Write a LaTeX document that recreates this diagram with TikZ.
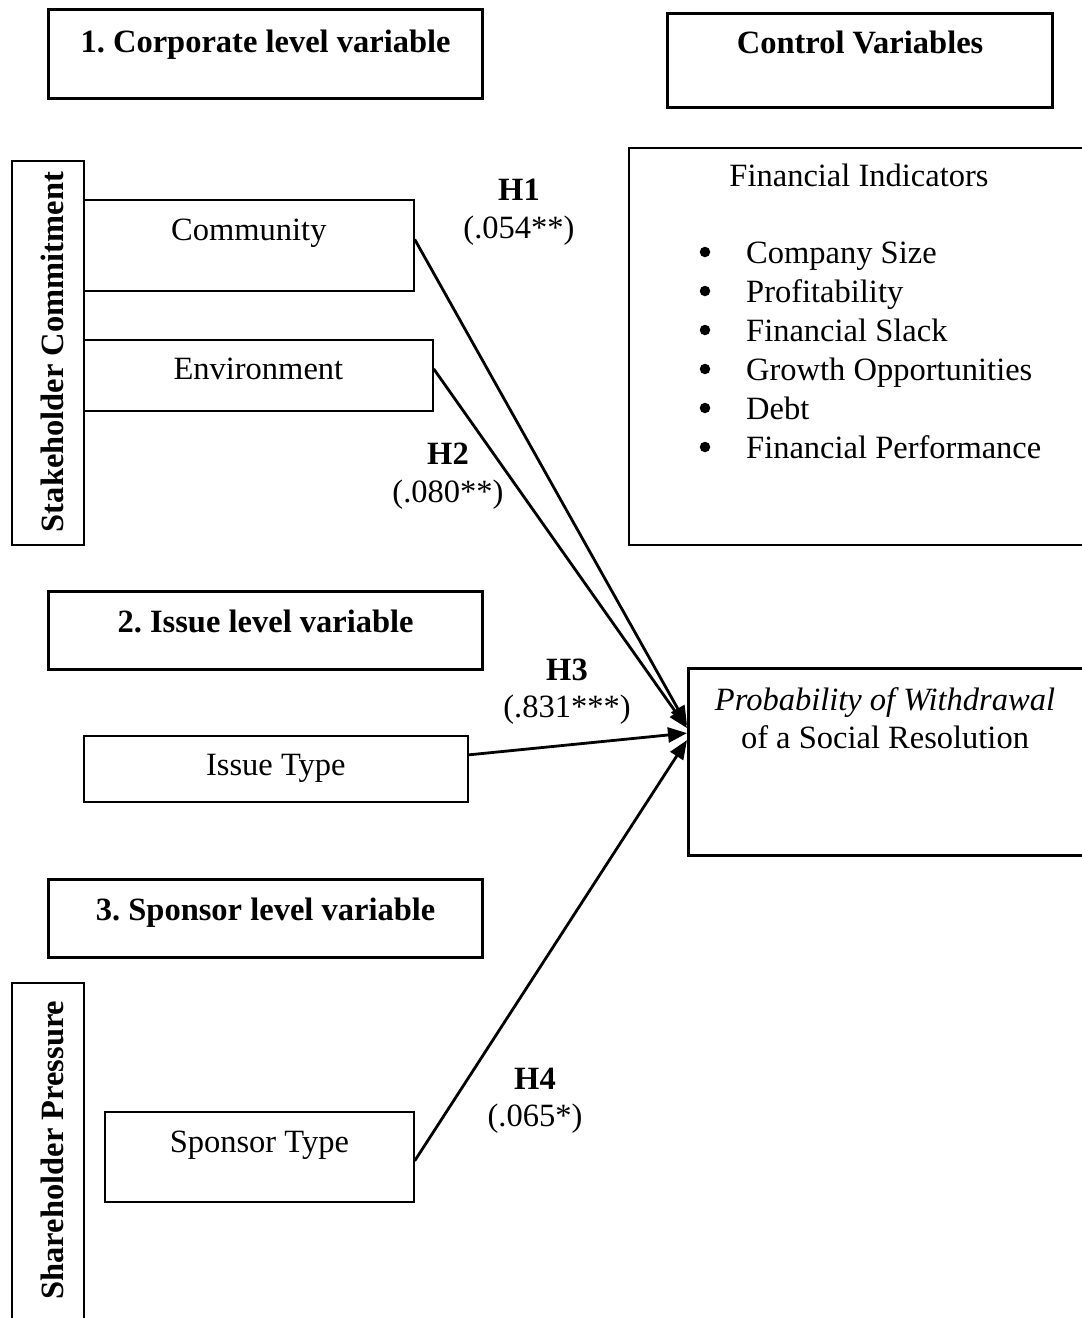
\documentclass[tikz,border=0pt]{standalone}
\usepackage{fontspec}
\setmainfont{Liberation Serif}
\usetikzlibrary{arrows.meta}
\frenchspacing

\newcommand{\bodyfont}{\fontsize{32.5}{39}\selectfont}

\tikzset{
  thinbox/.style={draw, line width=1.7pt, inner sep=0pt, anchor=north west},
  thickbox/.style={draw, line width=3.2pt, inner sep=0pt, anchor=north west},
  bold/.style={font=\bodyfont\bfseries},
  txt/.style={inner sep=0pt, anchor=base},
  vtxt/.style={inner sep=0pt, anchor=base, rotate=90, bold},
  dot/.style={circle, fill, inner sep=0pt, minimum size=10.5pt},
  conn/.style={line width=2.8pt, -{Triangle[length=19pt,width=15pt]}},
}

\begin{document}
\begin{tikzpicture}[x=1pt, y=-1pt, font=\bodyfont]
  % canvas
  \fill[white] (0,0) rectangle (1082,1318);
  \useasboundingbox (0,0) rectangle (1082,1318);

  % level headings
  \node[thickbox, bold, minimum width=434pt, text height=43pt, text depth=46pt]
    (lvl1) at (47,8) {1. Corporate level variable};
  \node[thickbox, bold, minimum width=385pt, text height=40pt, text depth=54pt]
    (ctrl) at (666,12) {Control Variables};
  \node[thickbox, bold, minimum width=434pt, text height=41pt, text depth=37pt]
    (lvl2) at (47,590) {2. Issue level variable};
  \node[thickbox, bold, minimum width=434pt, text height=41pt, text depth=37pt]
    (lvl3) at (47,878) {3. Sponsor level variable};

  % stakeholder commitment group
  \node[thinbox, minimum width=72pt, minimum height=384pt] (stake) at (11,160) {};
  \node[vtxt] (staketxt) at (63,352) {Stakeholder Commitment};
  \node[thinbox, minimum width=330pt, text height=41pt, text depth=50pt] (comm) at (83,199) {Community};
  \node[thinbox, minimum width=349pt, text height=40pt, text depth=31pt] (env) at (83,339) {Environment};

  % issue and sponsor variables
  \node[thinbox, minimum width=384pt, text height=40pt, text depth=26pt] (issue) at (83,735) {Issue Type};
  \node[thinbox, minimum width=72pt, minimum height=360pt] (share) at (11,982) {};
  \node[vtxt] (sharetxt) at (63,1150) {Shareholder Pressure};
  \node[thinbox, minimum width=309pt, text height=41pt, text depth=49pt] (spons) at (104,1111) {Sponsor Type};

  % control variables list
  \node[thinbox, minimum width=470pt, minimum height=397pt] (fin) at (628,147) {};
  \node[txt] (fintitle) at (859,186) {Financial Indicators};
  \foreach \item [count=\i] in {Company Size, Profitability, Financial Slack,
      Growth Opportunities, Debt, Financial Performance}{
    \node[dot] (bul\i) at (705,{252+39*(\i-1)}) {};
    \node[txt, anchor=base west] (item\i) at (746,{263+39*(\i-1)}) {\item};
  }

  % dependent variable
  \node[thickbox, minimum width=396pt, minimum height=187pt] (prob) at (687,667) {};
  \node[txt] (probl1) at (885,710) {\textit{Probability of Withdrawal}};
  \node[txt] (probl2) at (885,748) {of a Social Resolution};

  % arrow end points on the dependent variable box
  \coordinate (t1) at ([yshift=37pt]prob.west);
  \coordinate (t2) at ([yshift=34pt]prob.west);
  \coordinate (t3) at ([yshift=29pt]prob.west);
  \coordinate (t4) at ([yshift=22pt]prob.west);

  % hypotheses
  \draw[conn] ([yshift=6pt]comm.east) -- (t1);
  \draw[conn] ([yshift=6.5pt]env.east) -- (t2);
  \draw[conn] ([yshift=14pt]issue.east) -- (t3);
  \draw[conn] ([yshift=-4pt]spons.east) -- (t4);

  \node[txt, bold] (h1) at (519,200) {H1};
  \node[txt] (h1v) at (519,238) {(.054**)};
  \node[txt, bold] (h2) at (448,464) {H2};
  \node[txt] (h2v) at (448,502) {(.080**)};
  \node[txt, bold] (h3) at (567,680) {H3};
  \node[txt] (h3v) at (567,717) {(.831***)};
  \node[txt, bold] (h4) at (535,1089) {H4};
  \node[txt] (h4v) at (535,1126) {(.065*)};
\end{tikzpicture}
\end{document}
